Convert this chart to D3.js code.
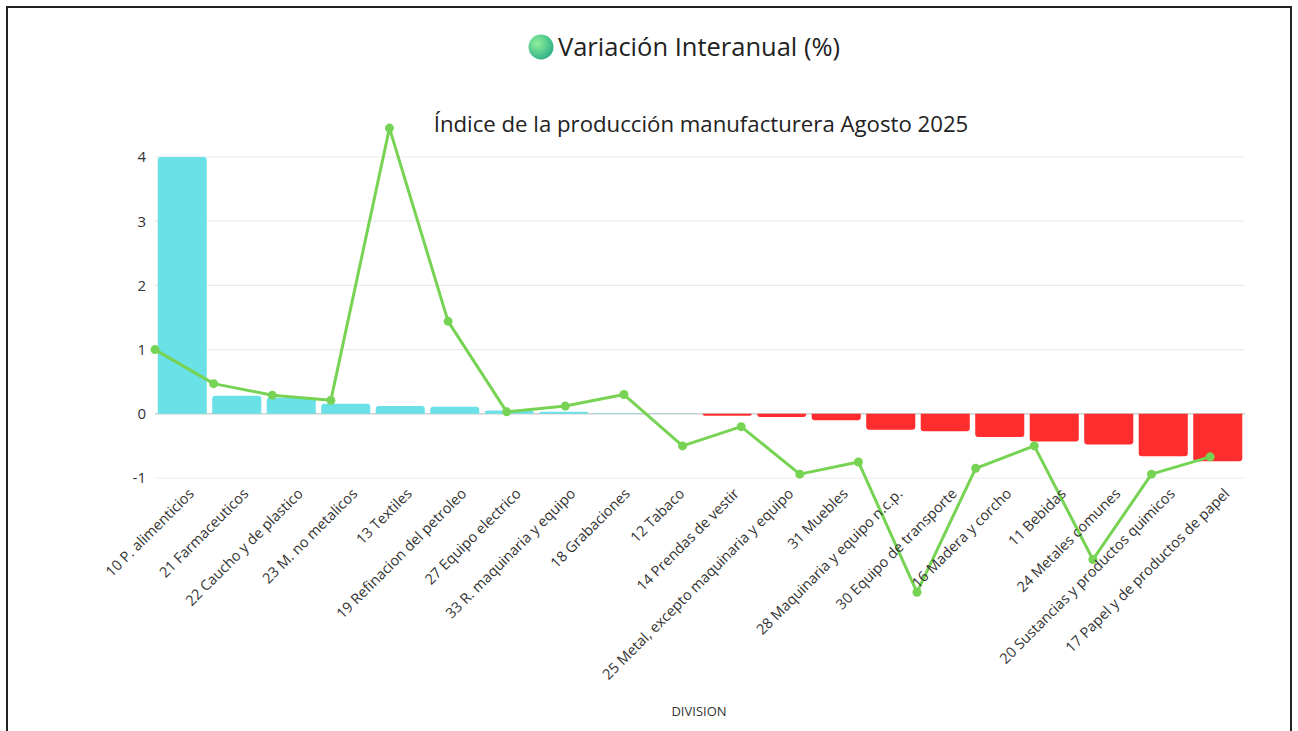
<!DOCTYPE html>
<html>
<head>
<meta charset="utf-8">
<script src="https://cdn.jsdelivr.net/npm/d3@7"></script>
<style>
  body { margin: 0; background: #fff; }
  text { font-family: 'Open Sans', 'Noto Sans', sans-serif; }
</style>
</head>
<body>
<script>
// divisions, ordered as in the chart
const divisions = [
  '10 P. alimenticios', '21 Farmaceuticos', '22 Caucho y de plastico', '23 M. no metalicos',
  '13 Textiles', '19 Refinacion del petroleo', '27 Equipo electrico', '33 R. maquinaria y equipo',
  '18 Grabaciones', '12 Tabaco', '14 Prendas de vestir', '25 Metal, excepto maquinaria y equipo',
  '31 Muebles', '28 Maquinaria y equipo n.c.p.', '30 Equipo de transporte', '16 Madera y corcho',
  '11 Bebidas', '24 Metales comunes', '20 Sustancias y productos quimicos', '17 Papel y de productos de papel',
];
// bar values (incidencia)
const barValues = [
  4.0, 0.28, 0.25, 0.155, 0.12, 0.11, 0.05, 0.03, 0.01, 0.005,
  -0.03, -0.05, -0.1, -0.25, -0.27, -0.36, -0.43, -0.48, -0.66, -0.74,
];
// line: Variacion Interanual (%)
const lineValues = [
  1.0, 0.47, 0.29, 0.21, 4.45, 1.44, 0.03, 0.12, 0.3, -0.5,
  -0.2, -0.94, -0.75, -2.78, -0.85, -0.5, -2.27, -0.94, -0.67,
];
const yTicks = [-1, 0, 1, 2, 3, 4];

const W = 1298, H = 731;
const margin = { top: 157, right: 53, bottom: 253, left: 155 };
const width = W - margin.left - margin.right;
const height = H - margin.top - margin.bottom;

const svg = d3.select('body').append('svg')
  .attr('width', W)
  .attr('height', H);

// page frame
svg.append('rect')
  .attr('x', 7).attr('y', 7)
  .attr('width', 1284).attr('height', 760)
  .attr('fill', 'none')
  .attr('stroke', '#222')
  .attr('stroke-width', 2);

// legend
const defs = svg.append('defs');
const grad = defs.append('radialGradient')
  .attr('id', 'legGrad')
  .attr('cx', '35%').attr('cy', '35%').attr('r', '70%');
grad.append('stop').attr('offset', '0%').attr('stop-color', '#8ff09a');
grad.append('stop').attr('offset', '100%').attr('stop-color', '#2fb088');

svg.append('circle')
  .attr('cx', 541).attr('cy', 47).attr('r', 12.5)
  .attr('fill', 'url(#legGrad)');
svg.append('text')
  .attr('x', 558).attr('y', 56)
  .attr('font-size', 25.5)
  .attr('fill', '#222')
  .text('Variación Interanual (%)');

// title
svg.append('text')
  .attr('x', 701).attr('y', 132)
  .attr('text-anchor', 'middle')
  .attr('font-size', 22.2)
  .attr('fill', '#222')
  .text('Índice de la producción manufacturera Agosto 2025');

const g = svg.append('g')
  .attr('transform', `translate(${margin.left},${margin.top})`);

const x = d3.scaleBand()
  .domain(divisions)
  .range([0, width])
  .paddingInner(0.1)
  .paddingOuter(0.05);

const y = d3.scaleLinear()
  .domain([-1, 4])
  .range([height, 0]);

// the line sits on its own point spacing
const xLine = d3.scaleLinear()
  .domain([0, lineValues.length - 1])
  .range([0, width * 0.968]);

// grid
g.append('g')
  .selectAll('line')
  .data(yTicks)
  .enter().append('line')
  .attr('x1', 0)
  .attr('x2', width)
  .attr('y1', d => y(d))
  .attr('y2', d => y(d))
  .attr('stroke', d => (d === 0 ? '#cfcfcf' : '#ebebeb'))
  .attr('stroke-width', d => (d === 0 ? 1.5 : 1.2));

// y axis labels
const yAxis = g.append('g')
  .call(d3.axisLeft(y).tickValues(yTicks).tickSize(0).tickPadding(9).tickFormat(d => String(d)));
yAxis.select('.domain').remove();
yAxis.selectAll('text')
  .attr('font-size', 15)
  .attr('fill', '#333');

// bars with rounded outer corners
function barPath(d, i) {
  const bx = x(divisions[i]);
  const bw = x.bandwidth();
  const y0 = y(0);
  const y1 = y(d);
  const r = Math.min(3, Math.abs(y1 - y0));
  if (d >= 0) {
    return `M${bx},${y0}V${y1 + r}Q${bx},${y1} ${bx + r},${y1}H${bx + bw - r}Q${bx + bw},${y1} ${bx + bw},${y1 + r}V${y0}Z`;
  }
  return `M${bx},${y0}V${y1 - r}Q${bx},${y1} ${bx + r},${y1}H${bx + bw - r}Q${bx + bw},${y1} ${bx + bw},${y1 - r}V${y0}Z`;
}

g.append('g')
  .selectAll('path')
  .data(barValues)
  .enter().append('path')
  .attr('d', barPath)
  .attr('fill', d => (d >= 0 ? '#6ae1e6' : '#ff2d2d'));

// line series
const valueline = d3.line()
  .x((d, i) => xLine(i))
  .y(d => y(d));

g.append('path')
  .datum(lineValues)
  .attr('fill', 'none')
  .attr('stroke', '#77d353')
  .attr('stroke-width', 3)
  .attr('stroke-linejoin', 'round')
  .attr('d', valueline);

g.append('g')
  .selectAll('circle')
  .data(lineValues)
  .enter().append('circle')
  .attr('cx', (d, i) => xLine(i))
  .attr('cy', d => y(d))
  .attr('r', 4.5)
  .attr('fill', '#77d353');

// x labels
g.append('g')
  .selectAll('text')
  .data(divisions)
  .enter().append('text')
  .attr('transform', d => `translate(${x(d) + x.bandwidth() / 2 + 9},${height + 13}) rotate(-45)`)
  .attr('text-anchor', 'end')
  .attr('dy', '0.35em')
  .attr('font-size', 14.5)
  .attr('fill', '#333')
  .text(d => d);

// axis title
g.append('text')
  .attr('x', width / 2 - 1)
  .attr('y', height + 238)
  .attr('text-anchor', 'middle')
  .attr('font-size', 13)
  .attr('fill', '#333')
  .text('DIVISION');
</script>
</body>
</html>
